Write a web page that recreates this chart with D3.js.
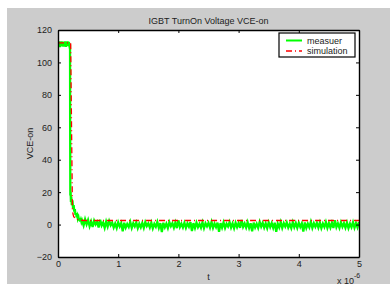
<!DOCTYPE html>
<html lang="en">
<head>
    <meta charset="UTF-8">
    <title>IGBT TurnOn Voltage VCE-on</title>
    <script src="https://d3js.org/d3.v7.min.js"></script>
    <style>
        body { margin: 0; padding: 0; background: #fff; }
        svg { display: block; font-family: "Liberation Sans", Arial, sans-serif; }
        .tick text { font-size: 9px; fill: #222; }
    </style>
</head>
<body>
    <script>
        // time in units of 1e-6 s
        const xTicks = [0, 1, 2, 3, 4, 5];
        const yTicks = [-20, 0, 20, 40, 60, 80, 100, 120];

        // measured: plateau before turn-on, then the fall
        const measHeadT = [0, 0.01, 0.02, 0.03, 0.04, 0.05, 0.06, 0.07, 0.08, 0.09, 0.1, 0.11, 0.12, 0.13, 0.14, 0.15, 0.16, 0.17, 0.18, 0.19, 0.2,
            0.202, 0.205, 0.21, 0.215, 0.22, 0.23, 0.24, 0.25, 0.26, 0.27, 0.28, 0.29, 0.3, 0.31, 0.32, 0.33, 0.34, 0.35, 0.36, 0.37, 0.38, 0.39];
        const measHeadV = [112.5, 110, 113, 109.5, 112, 110.5, 113, 110, 112.5, 109.8, 112.8, 110.2, 113, 109.6, 112.4, 110.4, 112.9, 110, 112.6, 110.3, 111,
            60, 18, 20, 14, 17, 12, 15, 10, 12, 8, 9.5, 6, 7, 4.5, 5.5, 3.5, 4.5, 2.5, 4, 1.8, 3, 1.5];
        // measured: noisy on-state tail from 0.4 to 5, step 0.025
        const tailStart = 0.4, tailStep = 0.025;
        const measTailV = [
            2.5,-0.5,3.2,0.2,2.8,-1.0,1.9,-1.5,2.4,0.1,1.6,-1.8,3.0,-0.6,1.2,-2.0,1.8,-1.2,2.2,-0.4,
            1.2,-1.8,0.6,-2.1,1.4,-1.2,0.9,-4.2,1.1,-1.9,0.3,-1.5,1.6,-2.0,0.8,-1.1,1.3,-2.2,0.5,-1.7,
            1.0,-2.0,1.5,-0.9,0.7,-1.8,1.2,-2.3,0.4,-1.4,1.6,-2.0,0.9,-4.6,1.1,-1.6,0.6,-2.1,1.4,-1.0,
            0.8,-1.9,1.3,-2.2,2.6,-1.5,0.5,-1.8,1.1,-2.0,0.7,-1.3,1.5,-4.0,0.9,-2.1,1.2,-1.6,0.4,-1.9,
            1.4,-2.2,0.8,-1.1,1.0,-1.8,1.6,-2.0,0.6,-1.5,1.2,-4.4,0.9,-1.9,1.3,-2.1,0.5,-1.2,1.5,-1.8,
            0.7,-2.2,1.1,-1.6,0.9,-2.0,2.8,-1.4,0.6,-1.9,1.4,-2.1,0.8,-4.1,1.2,-1.7,0.5,-2.0,1.6,-1.3,
            1.0,-1.9,0.7,-2.2,1.3,-1.5,0.9,-2.0,1.1,-4.5,0.6,-1.8,1.5,-2.1,0.8,-1.2,1.2,-1.9,0.4,-2.2,
            1.4,-1.6,0.9,-2.0,1.1,-1.4,0.7,-4.3,1.3,-2.1,0.5,-1.7,1.6,-2.0,0.8,-1.3,1.0,-1.9,1.2,-2.2,
            0.6,-1.5,1.5,-2.0,0.9,-1.8,1.1,-2.1,2.7,-1.6,0.7,-2.0,1.3,-1.4,0.8,-1.9,1.2,-2.2,0.5,-1.6,
            1.4,-2.0,0.9,-1.7,1.6
        ];

        // simulation
        const simT = [0, 0.21, 0.225, 0.24, 0.25, 0.26, 0.28, 0.3, 0.33, 0.37, 0.45, 5];
        const simV = [112, 112, 60, 9, 6.5, 5, 4, 3.4, 3, 2.7, 2.5, 2.5];

        const legendLabels = ["measuer", "simulation"];

        const W = 390, H = 284;
        const margin = { left: 58, top: 30, right: 31, bottom: 27 };

        const svg = d3.select("body").append("svg")
            .attr("width", W).attr("height", H);

        // figure background
        svg.append("rect").attr("x", 7).attr("y", 8)
            .attr("width", W - 7).attr("height", H - 8).attr("fill", "#cccccc");

        const x = d3.scaleLinear().domain([0, 5]).range([margin.left, W - margin.right]);
        const y = d3.scaleLinear().domain([-20, 120]).range([H - margin.bottom, margin.top]);

        svg.append("rect")
            .attr("x", x(0)).attr("y", y(120))
            .attr("width", x(5) - x(0)).attr("height", y(-20) - y(120))
            .attr("fill", "#fff");

        const measured = measHeadT.map((t, i) => [t, measHeadV[i]])
            .concat(measTailV.map((v, i) => [tailStart + i * tailStep, v]));
        const simulated = simT.map((t, i) => [t, simV[i]]);

        const line = d3.line().x(d => x(d[0])).y(d => y(d[1]));

        svg.append("clipPath").attr("id", "clip")
            .append("rect").attr("x", x(0)).attr("y", y(120))
            .attr("width", x(5) - x(0) + 1).attr("height", y(-20) - y(120));

        const plot = svg.append("g").attr("clip-path", "url(#clip)");

        plot.append("path").datum(measured)
            .attr("d", line)
            .attr("fill", "none")
            .attr("stroke", "#00ff00")
            .attr("stroke-width", 2.3);

        plot.append("path").datum(simulated)
            .attr("d", line)
            .attr("fill", "none")
            .attr("stroke", "#ff0000")
            .attr("stroke-width", 1.3)
            .attr("stroke-dasharray", "6,3,1,3");

        // axes with inward ticks, MATLAB box style
        const fmt = d3.format("d");
        svg.append("g").attr("transform", `translate(0,${y(-20)})`)
            .call(d3.axisBottom(x).tickValues(xTicks).tickFormat(fmt).tickSizeInner(-3).tickSizeOuter(0).tickPadding(4));
        svg.append("g").attr("transform", `translate(0,${y(120)})`)
            .call(d3.axisTop(x).tickValues(xTicks).tickFormat("").tickSizeInner(-3).tickSizeOuter(0));
        svg.append("g").attr("transform", `translate(${x(0)},0)`)
            .call(d3.axisLeft(y).tickValues(yTicks).tickFormat(fmt).tickSizeInner(-3).tickSizeOuter(0).tickPadding(6));
        svg.append("g").attr("transform", `translate(${x(5)},0)`)
            .call(d3.axisRight(y).tickValues(yTicks).tickFormat("").tickSizeInner(-3).tickSizeOuter(0));

        svg.selectAll(".domain").attr("stroke", "#000").attr("stroke-width", 1.4);
        svg.selectAll(".tick line").attr("stroke", "#000");

        // titles
        svg.append("text").attr("x", (x(0) + x(5)) / 2).attr("y", 24)
            .attr("text-anchor", "middle").attr("font-size", 9).attr("fill", "#222")
            .text("IGBT TurnOn Voltage VCE-on");
        svg.append("text").attr("x", (x(0) + x(5)) / 2).attr("y", 280)
            .attr("text-anchor", "middle").attr("font-size", 9).attr("fill", "#222")
            .text("t");
        svg.append("text")
            .attr("transform", `translate(33,${(y(-20) + y(120)) / 2}) rotate(-90)`)
            .attr("text-anchor", "middle").attr("font-size", 9).attr("fill", "#222")
            .text("VCE-on");
        const expo = svg.append("text").attr("x", 337).attr("y", 283.5)
            .attr("font-size", 9).attr("fill", "#222");
        expo.append("tspan").text("x 10");
        expo.append("tspan").attr("dy", -6).attr("font-size", 7).text("-6");

        // legend
        const lg = svg.append("g").attr("transform", "translate(279,33)");
        lg.append("rect").attr("width", 76).attr("height", 24)
            .attr("fill", "#fff").attr("stroke", "#000").attr("stroke-width", 1.2);
        const styles = [
            { stroke: "#00ff00", width: 2, dash: null },
            { stroke: "#ff0000", width: 1.3, dash: "6,3,1,3" }
        ];
        legendLabels.forEach((lab, i) => {
            const yy = 7.5 + i * 10.5;
            lg.append("line").attr("x1", 7).attr("x2", 23).attr("y1", yy).attr("y2", yy)
                .attr("stroke", styles[i].stroke).attr("stroke-width", styles[i].width)
                .attr("stroke-dasharray", styles[i].dash);
            lg.append("text").attr("x", 28).attr("y", yy + 3)
                .attr("font-size", 9).attr("fill", "#222").text(lab);
        });
    </script>
</body>
</html>
